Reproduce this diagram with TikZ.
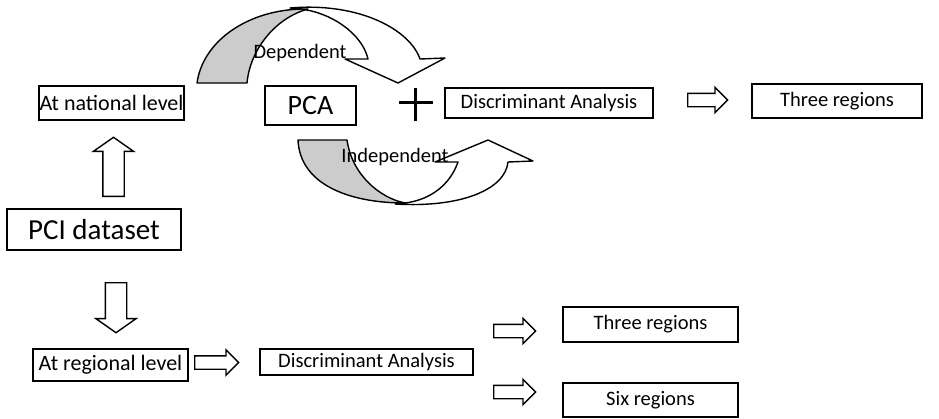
\documentclass[tikz,border=0pt]{standalone}
\usepackage{fontspec}
\setmainfont{Carlito}
\usepackage{tikz}
\usetikzlibrary{shapes.arrows}
\tikzset{
  box/.style={draw, line width=1.4pt, inner sep=0pt, font=\fontsize{20.5}{24}\selectfont},
  hollow/.style={single arrow, draw, fill=white, line width=1.4pt, inner xsep=0pt,
    inner ysep=6pt, single arrow head extend=6pt, single arrow tip angle=90,
    minimum height=#1, anchor=tail},
  curvedband/.style={draw, line width=1.4pt, line join=round}
}

\begin{document}
\begin{tikzpicture}[x=1pt,y=-1pt]
\useasboundingbox (0,0) rectangle (939,418);

%Upper curved arrow
\draw [curvedband,fill=white] (290,8) .. controls (360,2) and (410,30) .. (420,59) -- (445,58) -- (398,83) -- (345,59) -- (368,59) .. controls (362,33) and (330,12) .. (300,9) -- cycle;
\draw [curvedband,fill=gray!40] (197,83) .. controls (203,40) and (250,8) .. (308,9) .. controls (275,18) and (250,50) .. (247,83) -- cycle;
\node (dep) at (300,53) {\fontsize{20.5}{24}\selectfont Dependent};

%Lower curved arrow
\draw [curvedband,fill=white] (395,204) .. controls (460,208) and (505,190) .. (508,162) -- (533,161) -- (488,140) -- (435,162) -- (458,162) .. controls (450,185) and (430,200) .. (405,203) -- cycle;
\draw [curvedband,fill=gray!40] (298,140) .. controls (300,185) and (350,203) .. (405,203) .. controls (380,198) and (352,175) .. (347,140) -- cycle;
\node (indep) at (395,157) {\fontsize{20.5}{24}\selectfont Independent};

%National level
\node [box, minimum width=145pt, minimum height=34pt, font=\fontsize{22}{26}\selectfont] (nat) at (111.5,103) {At national level};
\node [box, minimum width=91pt, minimum height=39pt, font=\fontsize{28}{32}\selectfont] (pca) at (310.5,105.5) {PCA};
\draw [line width=3pt] (415,88) -- (415,121);
\draw [line width=3pt] (399,102) -- (433,102);
\node [box, minimum width=208pt, minimum height=30pt] (discA) at (549,103) {Discriminant Analysis};
\node [hollow=40pt] (arNat) at (687,100) {};
\node [box, minimum width=170pt, minimum height=34pt] (threeA) at (837,101) {Three regions};

%Dataset
\node [hollow=59pt, rotate=90, inner ysep=10pt, single arrow head extend=9.5pt, single arrow tip angle=110] (arUp) at (113.5,197) {};
\node [box, minimum width=174pt, minimum height=41pt, font=\fontsize{29}{34}\selectfont] (pci) at (94,229.5) {PCI dataset};
\node [hollow=50pt, rotate=-90, inner ysep=10pt, single arrow head extend=9.5pt, single arrow tip angle=110] (arDown) at (116,282) {};

%Regional level
\node [box, minimum width=155pt, minimum height=32pt, font=\fontsize{22}{26}\selectfont] (reg) at (110.5,365) {At regional level};
\node [hollow=44pt] (arReg) at (194,362.5) {};
\node [box, minimum width=213pt, minimum height=26pt] (discB) at (366.5,362) {Discriminant Analysis};
\node [hollow=42pt] (arThree) at (493,331) {};
\node [hollow=42pt] (arSix) at (493,392) {};
\node [box, minimum width=175pt, minimum height=35pt] (threeB) at (650.5,324.5) {Three regions};
\node [box, minimum width=175pt, minimum height=34pt] (six) at (650.5,400) {Six regions};

\end{tikzpicture}
\end{document}
